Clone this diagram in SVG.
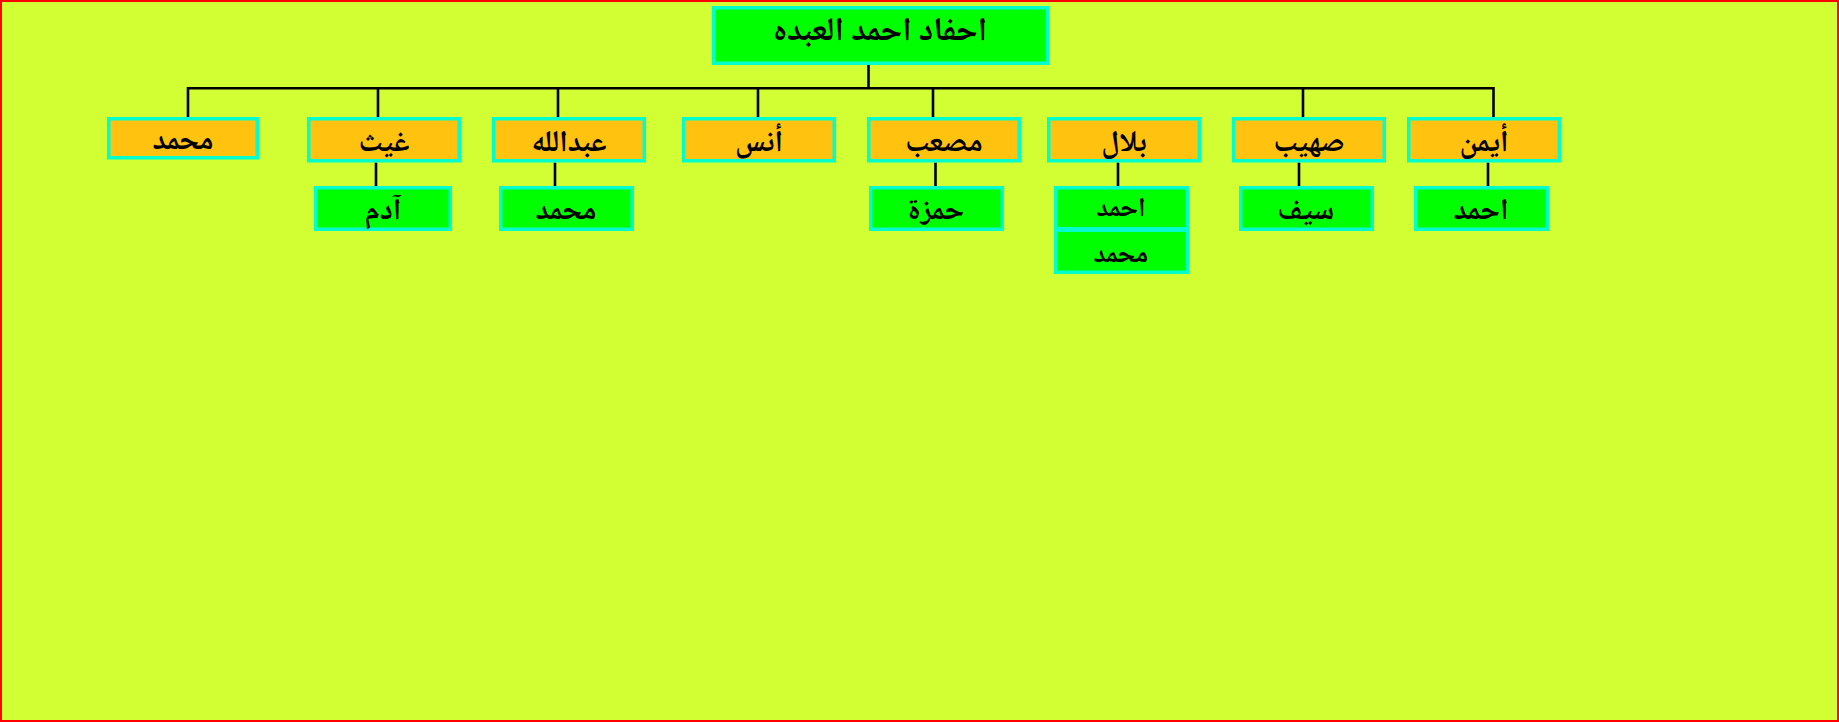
<svg xmlns="http://www.w3.org/2000/svg" width="1839" height="722" viewBox="0 0 1839 722">
<style>
.bg{fill:#d1ff33;stroke:#ff0000;stroke-width:2}
.l1{fill:#ffc20e;stroke:#00ffcc;stroke-width:3.5}
.l2{fill:#00ff00;stroke:#00ffcc;stroke-width:3.5}
.t{font-family:"Noto Naskh Arabic","Noto Sans Arabic","Noto Sans","DejaVu Sans",sans-serif;font-weight:bold;font-size:30px;fill:#000;text-anchor:middle}
.tt{font-size:33px}
.ts{font-size:27px}
.c{fill:none;stroke:#000;stroke-width:2.6;stroke-linecap:butt;stroke-linejoin:miter}
</style>
<rect class="bg" x="1" y="1" width="1837" height="720"/>
<g id="connectors">
<path class="c" d="M868.5 65V88.3"/>
<path class="c" d="M188 117V88.3H1493.5V117"/>
<path class="c" d="M378 88.3V117M558 88.3V117M758 88.3V117M933 88.3V117M1303 88.3V117"/>
<path class="c" d="M376 162.5V186M555 162.5V186M935.5 162.5V186M1118 162.5V186M1299 162.5V186M1488 162.5V186"/>
</g>
<g id="root"><rect class="l2" x="713.75" y="7.75" width="333.5" height="55.5"/><text class="t tt" x="880" y="40">احفاد احمد العبده</text></g>
<g id="n-mohammed"><rect class="l1" x="108.75" y="118.75" width="148.5" height="39"/><text class="t" x="183" y="149">محمد</text></g>
<g id="n-ghaith"><rect class="l1" x="308.75" y="118.75" width="150.5" height="42"/><text class="t" x="384" y="151">غيث</text></g>
<g id="n-abdullah"><rect class="l1" x="493.75" y="118.75" width="150.5" height="42"/><text class="t" x="569" y="151">عبدالله</text></g>
<g id="n-anas"><rect class="l1" x="683.75" y="118.75" width="150.5" height="42"/><text class="t" x="759" y="151">أنس</text></g>
<g id="n-musab"><rect class="l1" x="868.75" y="118.75" width="150.5" height="42"/><text class="t" x="944" y="151">مصعب</text></g>
<g id="n-bilal"><rect class="l1" x="1048.75" y="118.75" width="150.5" height="42"/><text class="t" x="1124" y="151">بلال</text></g>
<g id="n-suhaib"><rect class="l1" x="1233.75" y="118.75" width="150.5" height="42"/><text class="t" x="1309" y="151">صهيب</text></g>
<g id="n-ayman"><rect class="l1" x="1408.75" y="118.75" width="150.5" height="42"/><text class="t" x="1484" y="151">أيمن</text></g>
<g id="n-adam"><rect class="l2" x="315.75" y="187.75" width="134.5" height="41.5"/><text class="t" x="383" y="219">آدم</text></g>
<g id="n-mohammed2"><rect class="l2" x="500.75" y="187.75" width="131.5" height="41.5"/><text class="t" x="566" y="219">محمد</text></g>
<g id="n-hamza"><rect class="l2" x="870.75" y="187.75" width="131.5" height="41.5"/><text class="t" x="936" y="219">حمزة</text></g>
<g id="n-ahmed1"><rect class="l2" x="1055.75" y="187.75" width="131.5" height="41"/><text class="t ts" x="1121" y="216">احمد</text></g>
<g id="n-mohammed3"><rect class="l2" x="1055.75" y="230.25" width="131.5" height="42"/><text class="t ts" x="1121" y="262">محمد</text></g>
<g id="n-saif"><rect class="l2" x="1240.75" y="187.75" width="131.5" height="41.5"/><text class="t" x="1306" y="219">سيف</text></g>
<g id="n-ahmed2"><rect class="l2" x="1415.75" y="187.75" width="131.5" height="41.5"/><text class="t" x="1481" y="219">احمد</text></g>
</svg>
